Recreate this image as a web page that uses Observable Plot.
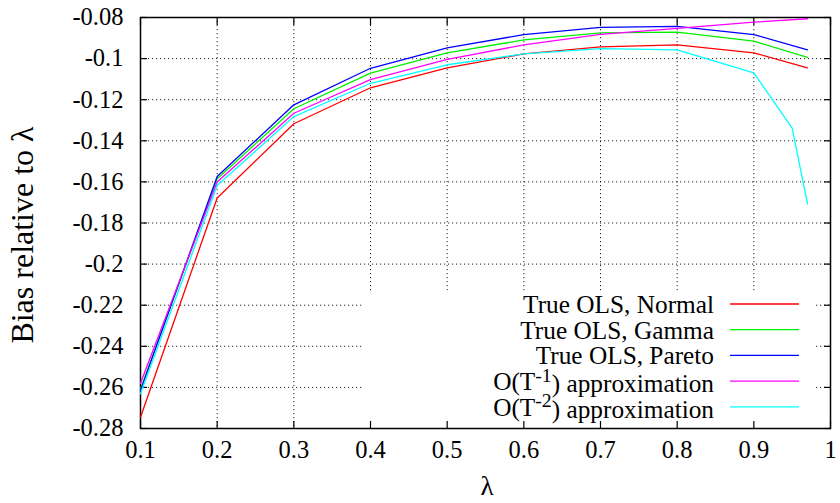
<!DOCTYPE html>
<html>
<head>
<meta charset="utf-8">
<script src="https://cdn.jsdelivr.net/npm/d3@7"></script>
<script src="https://cdn.jsdelivr.net/npm/@observablehq/plot@0.6"></script>
<style>
  html, body { margin: 0; padding: 0; background: white; }
</style>
</head>
<body>
<div id="chart"></div>
<script>
// ---- data ----
const lambdas   = [0.1, 0.2, 0.3, 0.4, 0.5, 0.6, 0.7, 0.8, 0.9, 0.97];
const lambdasO2 = [0.1, 0.2, 0.3, 0.4, 0.5, 0.6, 0.7, 0.8, 0.9, 0.95, 0.97];

const trueNormal = [-0.2745, -0.1678, -0.1317, -0.1142, -0.1045, -0.0977, -0.0943, -0.0933, -0.0972, -0.1045];
const trueGamma  = [-0.2608, -0.1585, -0.1244, -0.1071, -0.0972, -0.0909, -0.0875, -0.0871, -0.0915, -0.0994];
const truePareto = [-0.2615, -0.1574, -0.1225, -0.1047, -0.0948, -0.0883, -0.0848, -0.0843, -0.0883, -0.0957];
const approxO1   = [-0.2580, -0.1601, -0.1266, -0.1102, -0.1004, -0.0933, -0.0882, -0.0853, -0.0823, -0.0806];
const approxO2   = [-0.2631, -0.1618, -0.1282, -0.1120, -0.1030, -0.0977, -0.0951, -0.0958, -0.1070, -0.1338, -0.1707];

const seriesNames = [
  "True OLS, Normal",
  "True OLS, Gamma",
  "True OLS, Pareto",
  "O(T^-1) approximation",
  "O(T^-2) approximation"
];
const seriesColors = ["#ff0000", "#00ee00", "#0000ff", "#ff00ff", "#00ffff"];

const xTicks = [0.1, 0.2, 0.3, 0.4, 0.5, 0.6, 0.7, 0.8, 0.9, 1];
const yTicks = [-0.28, -0.26, -0.24, -0.22, -0.2, -0.18, -0.16, -0.14, -0.12, -0.1, -0.08];

const xLabel = "λ";
const yLabel = "Bias relative to λ";

// ---- build table ----
const seriesX = [lambdas, lambdas, lambdas, lambdas, lambdasO2];
const seriesY = [trueNormal, trueGamma, truePareto, approxO1, approxO2];
const rows = [];
seriesY.forEach((ys, s) => ys.forEach((v, i) => rows.push({series: seriesNames[s], x: seriesX[s][i], y: v})));

const fmt = d => String(+d.toFixed(2));
const font = "'Liberation Serif', 'Times New Roman', serif";
const FS = 24.5;      // tick labels
const FSKEY = 25.3;   // key text
const FSY = 32;       // y title

// blank area behind the key (as gnuplot does)
function keyBlank(index, scales, values, dims) {
  const g = d3.create("svg:g");
  g.append("rect")
    .attr("x", dims.marginLeft + 222)
    .attr("y", dims.height - dims.marginBottom - 136)
    .attr("width", dims.width - dims.marginRight - 15 - (dims.marginLeft + 222))
    .attr("height", 136)
    .attr("fill", "white");
  return g.node();
}

function keyLegend(index, scales, values, dims) {
  const g = d3.create("svg:g")
    .attr("font-family", font)
    .attr("font-size", FSKEY);
  const textRight = dims.width - dims.marginRight - 116;
  const y0 = dims.height - dims.marginBottom - 124;
  const step = 25.7;
  seriesNames.forEach((name, i) => {
    const y = y0 + i * step;
    const t = g.append("text")
      .attr("x", textRight).attr("y", y)
      .attr("dy", "0.35em")
      .attr("text-anchor", "end")
      .attr("fill", "black");
    const m = name.match(/^(.*)\^(\S+?)(\).*)$/);
    if (m) {
      t.append("tspan").text(m[1]);
      t.append("tspan").attr("dy", "-0.42em").attr("font-size", FSKEY * 0.78).text(m[2]);
      t.append("tspan").attr("dy", "0.42em").text(m[3]);
    } else {
      t.text(name);
    }
    g.append("line")
      .attr("x1", textRight + 16).attr("x2", textRight + 85)
      .attr("y1", y).attr("y2", y)
      .attr("stroke", seriesColors[i])
      .attr("stroke-width", 1.3);
  });
  return g.node();
}

const grid = {stroke: "#000", strokeOpacity: 0.85, strokeDasharray: "1.2,2.8", strokeWidth: 1};

const chart = Plot.plot({
  width: 840,
  height: 503,
  marginLeft: 140,
  marginRight: 10,
  marginTop: 17,
  marginBottom: 75,
  style: {fontFamily: font, fontSize: FS + "px", background: "white", color: "black"},
  x: {domain: [0.1, 1], label: null},
  y: {domain: [-0.28, -0.08], label: null},
  color: {domain: seriesNames, range: seriesColors},
  marks: [
    Plot.gridX(xTicks, grid),
    Plot.gridY(yTicks, grid),
    keyBlank,
    Plot.axisX(xTicks, {anchor: "bottom", tickSize: -7, tickFormat: () => "", label: null, strokeWidth: 1.2}),
    Plot.axisX(xTicks, {anchor: "top", tickSize: -7, tickFormat: () => "", label: null, strokeWidth: 1.2}),
    Plot.axisY(yTicks, {anchor: "left", tickSize: -7, tickFormat: () => "", label: null, strokeWidth: 1.2}),
    Plot.axisY(yTicks, {anchor: "right", tickSize: -7, tickFormat: () => "", label: null, strokeWidth: 1.2}),
    Plot.axisX(xTicks, {anchor: "bottom", tickSize: 0, tickPadding: 12, tickFormat: fmt, label: null, fontSize: FS}),
    Plot.axisY(yTicks, {anchor: "left", tickSize: 0, tickPadding: 17, tickFormat: fmt, label: null, fontSize: FS}),
    Plot.frame({stroke: "black", strokeWidth: 1.5}),
    Plot.line(rows, {x: "x", y: "y", z: "series", stroke: "series", strokeWidth: 1.3}),
    keyLegend
  ]
});

// axis titles
const svg = d3.select(chart);
svg.append("text")
  .attr("x", 487).attr("y", 486).attr("dy", "0.35em")
  .attr("text-anchor", "middle")
  .attr("font-family", font).attr("font-size", 27)
  .text(xLabel);
svg.append("text")
  .attr("transform", "translate(22,235) rotate(-90)")
  .attr("dy", "0.35em")
  .attr("text-anchor", "middle")
  .attr("font-family", font).attr("font-size", FSY)
  .text(yLabel);

document.getElementById("chart").appendChild(chart);
</script>
</body>
</html>
